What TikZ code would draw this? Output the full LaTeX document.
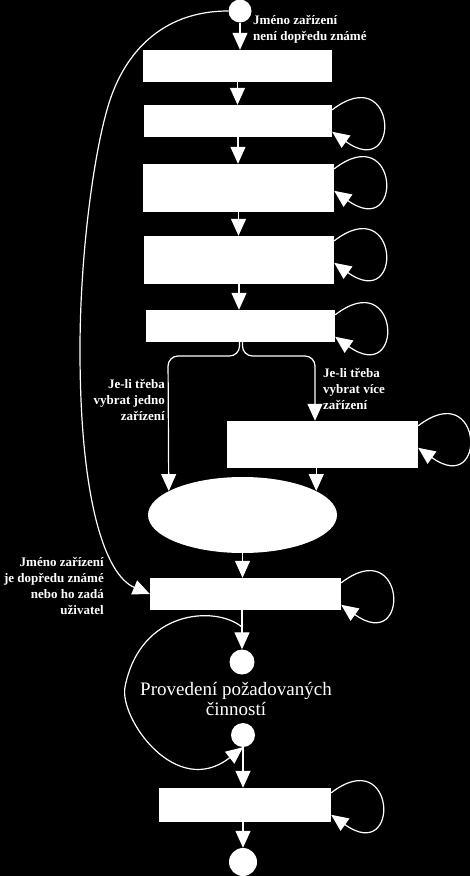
\documentclass[tikz,border=0pt]{standalone}
\usepackage{fontspec}
\setmainfont{Liberation Serif}
\usetikzlibrary{arrows.meta, shapes.geometric, positioning}
\tikzset{
	whitebox/.style={rectangle, fill=white, draw=none, inner sep=0pt}
}
\tikzset{
	statedot/.style={circle, fill=white, draw=none, inner sep=0pt}
}
\tikzset{
	flow/.style={draw=white, line width=1.2pt, -{Triangle[length=17pt,width=15pt]}},
	smallwhitetext/.style={font=\fontsize{13}{16}\selectfont\bfseries\color{white}, inner sep=0pt},
	whitetext/.style={font=\fontsize{19}{20}\selectfont\color{white}, inner sep=0pt}
}

\begin{document}
\begin{tikzpicture}[x=1pt, y=-1pt]
  \useasboundingbox (0,0) rectangle (470,876);
  \fill[black] (0,0) rectangle (470,876);
  \node[statedot, minimum size=23pt] (c0) at (240,11) {};
  \node[whitebox, minimum width=189pt, minimum height=32pt] (b1) at (237.5,66) {};
  \node[whitebox, minimum width=188pt, minimum height=32pt] (b2) at (238,121) {};
  \node[whitebox, minimum width=191pt, minimum height=48pt] (b3) at (238.5,188) {};
  \node[whitebox, minimum width=190pt, minimum height=48pt] (b4) at (239,260) {};
  \node[whitebox, minimum width=189pt, minimum height=32pt] (b5) at (240.5,326) {};
  \node[whitebox, minimum width=191pt, minimum height=47pt] (b6) at (322.5,444.5) {};
  \node[ellipse, fill=white, inner sep=0pt, minimum width=189pt, minimum height=76pt] (e) at (242.5,515) {};
  \node[whitebox, minimum width=191pt, minimum height=32pt] (b7) at (245.5,594) {};
  \node[statedot, minimum size=25pt] (c1) at (242,662) {};
  \node[statedot, minimum size=24pt] (c2) at (243,735) {};
  \node[whitebox, minimum width=172pt, minimum height=34pt] (b8) at (245,805) {};
  \node[statedot, minimum size=28pt] (c3) at (243,862) {};
  \node[smallwhitetext, anchor=west, align=left] (l0) at (253,29) {Jméno zařízení\\není dopředu známé};
  \node[smallwhitetext, anchor=east, align=right] (l1) at (165,400) {Je-li třeba\\vybrat jedno\\zařízení};
  \node[smallwhitetext, anchor=west, align=left] (l2) at (323,389) {Je-li třeba\\vybrat více\\zařízení};
  \node[smallwhitetext, anchor=east, align=right] (l3) at (104,586) {Jméno zařízení\\je dopředu známé\\nebo ho zadá\\uživatel};
  \node[whitetext, align=center] (act) at (236,699) {Provedení požadovaných\\činností};
  \coordinate (lb) at (168,356);
  \coordinate (rb) at (315,356);
  \coordinate (lp) at (242,627);
  \draw[flow] (c0) -- (c0 |- b1.north);
  \draw[flow] (b1.south) -- (b1.south |- b2.north);
  \draw[flow] (b2.south) -- (b2.south |- b3.north);
  \draw[flow] (b3.south) -- (b3.south |- b4.north);
  \draw[flow] (b4.south) -- (b4.south |- b5.north);
  \draw[flow, rounded corners=10pt] ([xshift=-1pt]b5.south) |- (lb) -- (e.162.6);
  \draw[flow, rounded corners=10pt] ([xshift=2pt]b5.south) |- (rb) -- (rb |- b6.north);
  \draw[flow] (e.18.6 |- b6.south) -- (e.18.6);
  \draw[flow] (e.south) -- (e.south |- b7.north);
  \draw[flow] (c1 |- b7.south) -- (c1);
  \draw[flow] (c2) -- (c2 |- b8.north);
  \draw[flow] (c3 |- b8.south) -- (c3);
  \draw[flow] (c0.west) .. controls (160,11) and (125,55) .. (110,100)
    .. controls (95,145) and (80,250) .. (80,350)
    .. controls (80,500) and (105,575) .. (b7.west);
  \draw[flow] (lp) .. controls (215,605) and (140,610) .. (125,687)
    .. controls (119,718) and (176,800) .. (c2.south);
  \foreach \b in {b2,b3,b4,b5,b6,b7,b8}
    \draw[flow] ([yshift=-5pt]\b.north east) .. controls +(65,-50) and +(70,50) .. ([yshift=-27pt]\b.north east);
\end{tikzpicture}
\end{document}
